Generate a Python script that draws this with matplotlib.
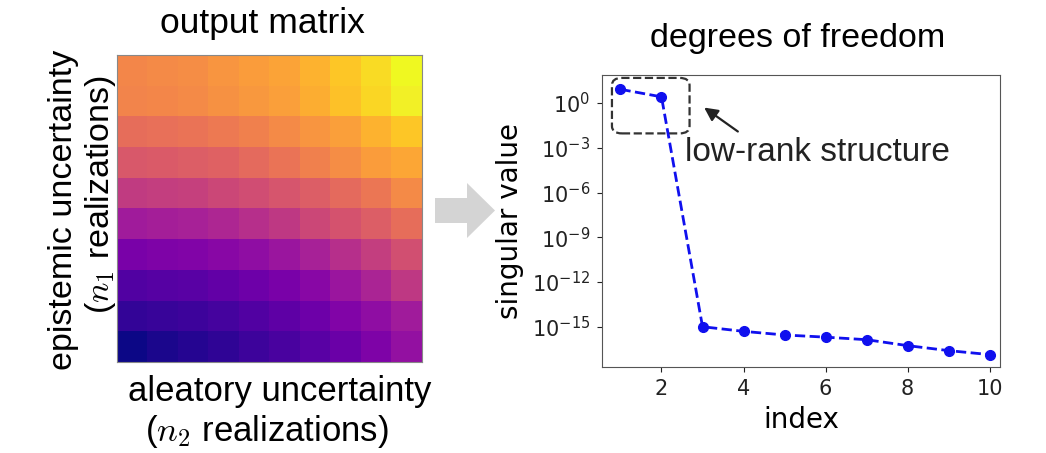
import numpy as np
import matplotlib
matplotlib.use("Agg")
import matplotlib.pyplot as plt
from matplotlib.patches import FancyBboxPatch, Polygon
import matplotlib.ticker as mticker

plt.rcParams["mathtext.fontset"] = "cm"

# ---- data ----
# output matrix (rows top -> bottom, cols left -> right), normalised values
matrix_rows = [
    [0.71, 0.72, 0.73, 0.75, 0.77, 0.79, 0.83, 0.88, 0.93, 1.00],
    [0.70, 0.71, 0.72, 0.74, 0.76, 0.78, 0.82, 0.87, 0.92, 0.98],
    [0.63, 0.64, 0.65, 0.67, 0.69, 0.72, 0.75, 0.78, 0.83, 0.88],
    [0.56, 0.57, 0.58, 0.59, 0.62, 0.65, 0.69, 0.73, 0.77, 0.80],
    [0.46, 0.47, 0.48, 0.50, 0.52, 0.55, 0.58, 0.62, 0.66, 0.72],
    [0.35, 0.36, 0.37, 0.39, 0.42, 0.45, 0.50, 0.54, 0.58, 0.63],
    [0.24, 0.25, 0.26, 0.28, 0.30, 0.33, 0.37, 0.42, 0.47, 0.53],
    [0.14, 0.15, 0.16, 0.18, 0.21, 0.24, 0.28, 0.33, 0.38, 0.45],
    [0.07, 0.08, 0.09, 0.11, 0.14, 0.17, 0.21, 0.26, 0.30, 0.35],
    [0.00, 0.02, 0.04, 0.06, 0.09, 0.12, 0.16, 0.20, 0.25, 0.31],
]
index = [1, 2, 3, 4, 5, 6, 7, 8, 9, 10]
singular_values = [8.3, 2.6, 1.0e-15, 4.9e-16, 2.8e-16, 2.0e-16,
                   1.35e-16, 5.4e-17, 2.5e-17, 1.35e-17]
ytick_vals = [1e0, 1e-3, 1e-6, 1e-9, 1e-12, 1e-15]
xtick_vals = [2, 4, 6, 8, 10]

W, H = 1046, 453
fig = plt.figure(figsize=(W / 100, H / 100), dpi=100)
ARIAL = ["Liberation Sans", "DejaVu Sans"]

# ---- left heatmap ----
ax1 = fig.add_axes([117 / W, 1 - 362 / H, 305 / W, 307 / H])
ax1.imshow(np.array(matrix_rows), cmap="plasma", vmin=0, vmax=1,
           aspect="auto", interpolation="nearest")
ax1.set_xticks([])
ax1.set_yticks([])
for s in ax1.spines.values():
    s.set_color("#888888")
    s.set_linewidth(0.8)

fig.text(262 / W, 1 - 24 / H, "output matrix", ha="center", va="center",
         fontsize=25.5, family=ARIAL)
fig.text(64 / W, 1 - 210 / H, "epistemic uncertainty", ha="center",
         va="center", rotation=90, fontsize=24.5, family=ARIAL)
fig.text(100 / W, 1 - 195 / H, "($n_1$ realizations)", ha="center",
         va="center", rotation=90, fontsize=24.5, family=ARIAL)
fig.text(280 / W, 1 - 392 / H, "aleatory uncertainty", ha="center",
         va="center", fontsize=25, family=ARIAL)
fig.text(267 / W, 1 - 432 / H, "($n_2$ realizations)", ha="center",
         va="center", fontsize=25, family=ARIAL)

# ---- gray arrow ----
arrow_px = [(435, 198), (467, 198), (467, 183), (495, 210.5),
            (467, 238), (467, 223), (435, 223)]
arrow_fig = [(x / W, 1 - y / H) for x, y in arrow_px]
fig.patches.append(Polygon(arrow_fig, closed=True, transform=fig.transFigure,
                           facecolor="#d4d4d4", edgecolor="none"))

# ---- right plot ----
ax2 = fig.add_axes([602 / W, 1 - 367 / H, 398 / W, 292 / H])
ax2.plot(index, singular_values, "o--", color="#1010ee", markersize=7,
         linewidth=2)
ax2.set_yscale("log")
ax2.set_ylim(10 ** -17.7, 10 ** 1.88)
ax2.set_xlim(0.55, 10.25)
ax2.yaxis.set_major_locator(mticker.FixedLocator(ytick_vals))
ax2.yaxis.set_minor_locator(mticker.NullLocator())
ax2.set_xticks(xtick_vals)
ax2.tick_params(labelsize=15, colors="#222222", pad=5)
for s in ax2.spines.values():
    s.set_color("#555555")
ax2.set_xlabel("index", fontsize=20, labelpad=5)
ax2.set_ylabel("singular value", fontsize=20, labelpad=6)
fig.text(798 / W, 1 - 38 / H, "degrees of freedom", ha="center",
         va="center", fontsize=24.5, family=ARIAL)

box = FancyBboxPatch((0.025, 0.80), 0.195, 0.19,
                     boxstyle="round,pad=0,rounding_size=0.025",
                     transform=ax2.transAxes, fill=False,
                     edgecolor="#333333", linestyle="--", linewidth=1.6,
                     clip_on=False)
ax2.add_patch(box)
ax2.annotate("", xy=(0.251, 0.894), xytext=(0.347, 0.801),
             xycoords="axes fraction", textcoords="axes fraction",
             arrowprops=dict(arrowstyle="-|>", color="#222222", lw=1.6,
                             mutation_scale=20))
ax2.text(0.208, 0.736, "low-rank structure", transform=ax2.transAxes,
         ha="left", va="center", fontsize=24, family=ARIAL, color="#222222")

fig.savefig("out.png", dpi=100)
